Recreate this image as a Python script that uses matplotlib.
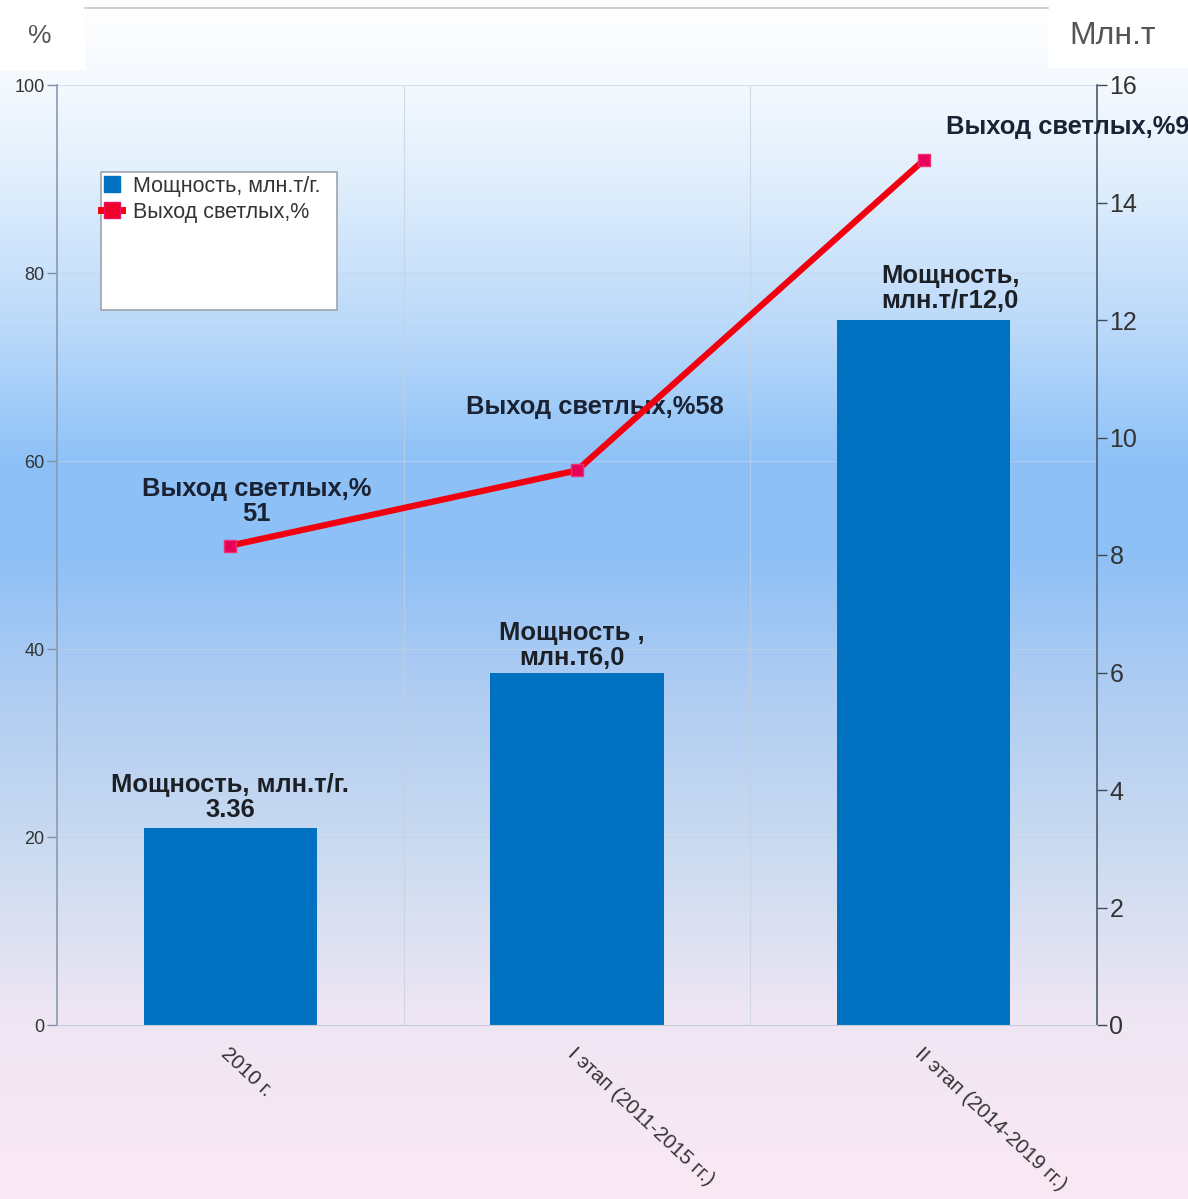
import numpy as np
import matplotlib
matplotlib.use("Agg")
import matplotlib.pyplot as plt
from matplotlib.colors import LinearSegmentedColormap
from matplotlib.patches import Rectangle
from matplotlib.lines import Line2D

plt.rcParams['font.family'] = ['Liberation Sans', 'DejaVu Sans']

categories = ['2010 г.', 'I этап (2011-2015 гг.)', 'II этап (2014-2019 гг.)']
capacity = [3.36, 6.0, 12.0]          # млн.т/г, right axis
light_yield = [51, 59, 92]            # %, left axis
capacity_labels = ['Мощность, млн.т/г.\n3.36', 'Мощность ,\nмлн.т6,0', 'Мощность,\nмлн.т/г12,0']
yield_labels = ['Выход светлых,%\n51', 'Выход светлых,%58', 'Выход светлых,%92']
left_ticks = [0, 20, 40, 60, 80, 100]
right_ticks = [0, 2, 4, 6, 8, 10, 12, 14, 16]

fig = plt.figure(figsize=(11.88, 11.99), dpi=100)

# background gradient over the whole figure
bg = fig.add_axes([0, 0, 1, 1], zorder=-10)
stops = [(0.00, '#ffffff'), (0.07, '#f4f9fe'), (0.15, '#e0eefc'), (0.28, '#b8d8fa'),
         (0.39, '#8cc0f7'), (0.46, '#8ec0f6'), (0.58, '#b0cdf2'), (0.72, '#cddcf0'),
         (0.85, '#efe6f3'), (1.00, '#fbe8f5')]
cmap = LinearSegmentedColormap.from_list('bg', stops)
grad = np.linspace(0, 1, 512).reshape(-1, 1)
bg.imshow(grad, aspect='auto', cmap=cmap, extent=[0, 1, 0, 1], origin='upper')
bg.add_patch(Rectangle((0, 1 - 70 / 1199), 85 / 1188, 70 / 1199, color='white', lw=0))
bg.add_patch(Rectangle((1048 / 1188, 1 - 68 / 1199), 140 / 1188, 68 / 1199, color='white', lw=0))
bg.plot([85 / 1188, 1048 / 1188], [1 - 8 / 1199, 1 - 8 / 1199], color='#c8c8c8', lw=1.2)
bg.text(40 / 1188, 1 - 36 / 1199, '%', fontsize=19, color='#555555', ha='center', va='center')
bg.text(1113 / 1188, 1 - 36 / 1199, 'Млн.т', fontsize=23, color='#555555', ha='center', va='center')
bg.set_xlim(0, 1)
bg.set_ylim(0, 1)
bg.axis('off')

rect = [57 / 1188, 174 / 1199, 1040 / 1188, 940 / 1199]
ax2 = fig.add_axes(rect)                  # bars, right axis
ax = fig.add_axes(rect, sharex=ax2)       # line, left axis
ax.set_zorder(ax2.get_zorder() + 1)
ax.patch.set_visible(False)
ax2.patch.set_visible(False)

x = np.arange(len(categories))

# bars on right axis
ax2.bar(x, capacity, width=0.5, color='#0070c0', zorder=3)
ax2.set_ylim(0, 16)
ax2.set_yticks(right_ticks)
ax2.yaxis.tick_right()
ax2.tick_params(axis='y', labelsize=18, colors='#3c4a5a', labelcolor='#333333',
                length=7, width=1, pad=2)
for s in ['left', 'top', 'bottom']:
    ax2.spines[s].set_visible(False)
ax2.spines['right'].set_color('#4a5a6a')
ax2.spines['right'].set_linewidth(1.2)

# grid lines kept under the bars
ax2.hlines(left_ticks[1:], -0.5, 2.5, transform=ax.transData, color='#c4d4e8',
           lw=0.8, alpha=0.6, zorder=0)
ax2.vlines([0.5, 1.5], 0, 100, transform=ax.transData, color='#c4d0e0',
           lw=0.8, alpha=0.7, zorder=0)

offs_cap = [(0, 4), (-4, 2), (19, 5)]
for xi, v, lab, off in zip(x, capacity, capacity_labels, offs_cap):
    ax2.annotate(lab, (xi, v), xytext=off, textcoords='offset points', ha='center',
                 va='bottom', fontsize=18.4, fontweight='bold', color='#1c1f26',
                 linespacing=1.05, zorder=5)

# line on left axis
ax.plot(x, light_yield, color='#f2000f', lw=4.5, marker='s', markersize=9,
        markerfacecolor='#e8005a', markeredgecolor='#f03070', zorder=4)
ax.set_ylim(0, 100)
ax.set_xlim(-0.5, 2.5)
ax.set_yticks(left_ticks)
ax.yaxis.tick_left()
ax.tick_params(axis='y', labelsize=13, labelcolor='#333333', colors='#8090a8',
               length=7, width=1, pad=2)
ax.spines['left'].set_color('#8a9ab2')
ax.spines['left'].set_linewidth(1.2)
ax.spines['bottom'].set_color('#c8ccd8')
for s in ['top', 'right']:
    ax.spines[s].set_visible(False)

offs_yield = [(19, 14, 'center', 'bottom'), (13, 37, 'center', 'bottom'), (16, 24, 'left', 'center')]
for xi, v, lab, (dx, dy, ha, va) in zip(x, light_yield, yield_labels, offs_yield):
    ax.annotate(lab, (xi, v), xytext=(dx, dy), textcoords='offset points', ha=ha,
                va=va, fontsize=18.4, fontweight='bold', color='#1a2233',
                linespacing=1.05, annotation_clip=False)

ax.set_xticks(x)
ax.set_xticklabels(categories, rotation=-43, ha='left', va='top',
                   rotation_mode='anchor', fontsize=14.8, color='#333333')
ax.tick_params(axis='x', length=0, pad=14)
ax2.tick_params(axis='x', length=0, labelbottom=False)

# legend
ax.add_patch(Rectangle((0.0423, 0.7606), 0.2269, 0.1468, transform=ax.transAxes,
                       facecolor='white', edgecolor='#a0a4ac', lw=1.2, zorder=6))
handles = [Line2D([], [], ls='', marker='s', markersize=12, color='#0070c0'),
           Line2D([], [], color='#f2000f', lw=5, marker='s', markersize=11,
                  markerfacecolor='#f0002a', markeredgecolor='#e8106a')]
leg = ax.legend(handles, ['Мощность, млн.т/г.', 'Выход светлых,%'],
                loc='upper left', bbox_to_anchor=(0.040, 0.906), frameon=False,
                fontsize=15.5, handlelength=1.0, handletextpad=0.5, borderpad=0.1,
                labelspacing=0.25, borderaxespad=0)
leg.set_zorder(7)
for t in leg.get_texts():
    t.set_color('#333333')

fig.savefig('out.png', dpi=100)
